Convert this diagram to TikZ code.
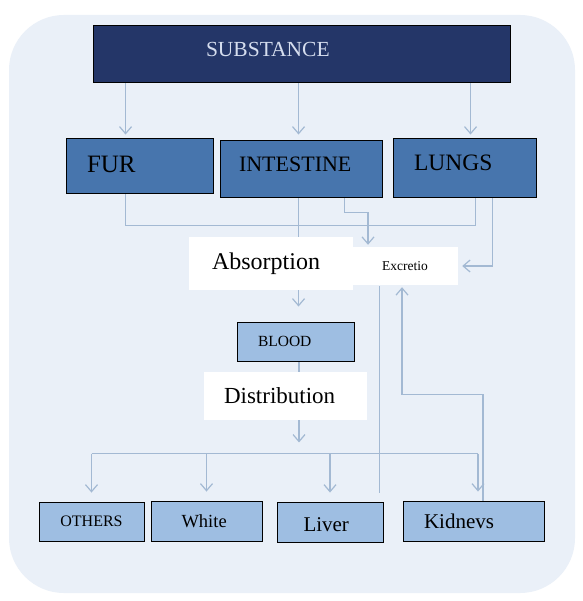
\documentclass[tikz,border=0pt]{standalone}
\usepackage{fontspec}
\setmainfont{Liberation Serif}
\usetikzlibrary{arrows.meta,calc}
\pgfdeclarelayer{back}
\pgfdeclarelayer{wires}
\pgfsetlayers{back,wires,main}
\definecolor{bgc}{HTML}{EAF0F8}
\definecolor{navy}{HTML}{243668}
\definecolor{midb}{HTML}{4775AD}
\definecolor{lightb}{HTML}{9EBEE2}
\definecolor{wirec}{HTML}{A3B9D3}
\definecolor{subtxt}{HTML}{D5DDEE}
\newcommand{\fs}[1]{\fontsize{#1}{#1}\selectfont}
\begin{document}
\begin{tikzpicture}[x=1pt,y=-1pt,
  box/.style={draw=black, line width=0.9pt, inner sep=0pt},
  topbox/.style={box, fill=midb, text=black},
  lowbox/.style={box, fill=lightb, text=black},
  wbox/.style={fill=white, inner sep=0pt},
  wire/.style={draw=wirec, line width=1.3pt},
  arr/.style={wire, -{Straight Barb[length=7pt,width=12pt,line width=1.2pt]}},
]
\useasboundingbox (0,0) rectangle (582,601);
\begin{pgfonlayer}{back}
\fill[white] (0,0) rectangle (582,601);
\fill[bgc, rounded corners=55pt] (9,15) rectangle (575,593);
\end{pgfonlayer}

% nodes
\node[box, fill=navy, text=subtxt, minimum height=57pt, text width=191pt, inner xsep=113pt, align=left, text depth=9pt, font=\fs{21.5}] (sub) at (301.5,53.5) {SUBSTANCE};
\node[topbox, minimum height=55pt, text width=105pt, inner xsep=21pt, align=left, text depth=3pt, font=\fs{25}] (fur) at (139.5,165.5) {FUR};
\node[topbox, minimum height=57pt, text width=124pt, inner xsep=19pt, align=left, text depth=9pt, font=\fs{22}] (intestine) at (301,168.5) {INTESTINE};
\node[topbox, minimum height=59pt, text width=101pt, inner xsep=21pt, align=left, text depth=9pt, font=\fs{23.5}] (lungs) at (464.5,167.5) {LUNGS};

\node[wbox, minimum height=53pt, text width=118pt, inner xsep=23pt, align=left, font=\fs{24}] (abs) at (271,263.5) {Absorption};
\node[wbox, minimum width=106pt, minimum height=38pt, font=\fs{13.5}] (excr) at (405,266) {Excretio};

\node[lowbox, minimum height=39pt, text width=75pt, inner xsep=21pt, align=left, font=\fs{15.5}] (blood) at (295.5,341.5) {BLOOD};
\node[wbox, minimum height=48pt, text width=123pt, inner xsep=20pt, align=left, font=\fs{23}] (dist) at (285.5,396) {Distribution};

\node[lowbox, minimum width=105pt, minimum height=39pt, font=\fs{16}] (others) at (91.5,521.5) {OTHERS};
\node[lowbox, minimum height=40pt, text width=50pt, inner xsep=30.5pt, align=left, font=\fs{18.5}] (white) at (206.5,521) {White};
\node[lowbox, minimum height=40pt, text width=53pt, inner xsep=26.5pt, align=left, text height=20pt, font=\fs{21}] (liver) at (330,522) {Liver};
\node[lowbox, minimum height=40pt, text width=99pt, inner xsep=21pt, align=left, font=\fs{21}] (kid) at (473.5,521) {Kidnevs};

\begin{pgfonlayer}{wires}
% substance to organs
\coordinate (s1) at ([xshift=33pt]sub.south west);
\coordinate (s2) at ([xshift=206pt]sub.south west);
\coordinate (s3) at ([xshift=378pt]sub.south west);
\draw[arr, shorten >=3pt] (s1) -- (s1 |- fur.north);
\draw[arr, shorten >=5pt] (s2) -- (s2 |- intestine.north);
\draw[arr, shorten >=3pt] (s3) -- (s3 |- lungs.north);
% absorption bus
\coordinate (f1) at ([xshift=60pt]fur.south west);
\coordinate (l1) at ([xshift=83pt]lungs.south west);
\draw[wire] (f1) -- ++(0,32) -| (l1);
\coordinate (i1) at ([xshift=79pt]intestine.south west);
\draw[arr, shorten >=15pt] (i1) -- (i1 |- blood.north);
% to excretion
\coordinate (i2) at ([xshift=125pt]intestine.south west);
\coordinate (e1) at ([xshift=-37pt]excr.north);
\draw[arr, shorten >=2pt] (i2) -- ++(0,15) -| (e1);
\coordinate (l2) at ([xshift=100pt]lungs.south west);
\draw[arr, shorten >=4pt] (l2) |- (excr.east);
% blood to distribution
\coordinate (bl) at ([xshift=3.5pt]blood.south);
\draw[arr] (bl) -- ++(0,81);
% distribution bus
\coordinate (bL) at ([yshift=48pt]others.north);
\coordinate (k1) at ([xshift=4.5pt]kid.north);
\draw[wire] (bL) -- (bL -| k1);
\draw[arr, shorten >=9pt] (bL) -- (others.north);
\draw[arr, shorten >=9pt] (bL -| white.north) -- (white.north);
\draw[arr, shorten >=9pt] (bL -| liver.north) -- (liver.north);
\draw[arr, shorten >=9pt] (bL -| k1) -- (k1);
% back to excretion
\coordinate (v1) at ([xshift=-4pt]liver.north east);
\draw[wire, shorten <=9pt, shorten >=1pt] (v1) -- (v1 |- excr.south);
\coordinate (k2) at ([xshift=9.5pt]kid.north);
\coordinate (e2) at ([xshift=-3pt]excr.south);
\draw[arr, shorten >=2pt] (k2) -- ++(0,-106) -| (e2);
\end{pgfonlayer}
\end{tikzpicture}
\end{document}
